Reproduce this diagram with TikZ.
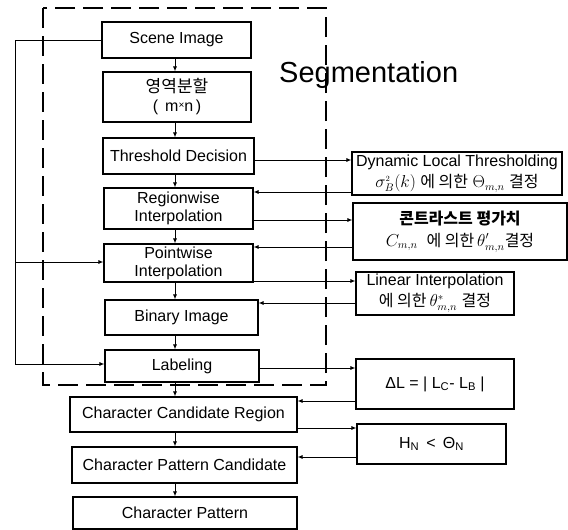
\documentclass[tikz,border=0pt]{standalone}
\usepackage{fontspec}
\setmainfont{Liberation Sans}
\newfontfamily\kr{Noto Sans CJK KR}
\usetikzlibrary{arrows.meta}
\begin{document}
\begin{tikzpicture}[x=1pt,y=-1pt,
  blk/.style={draw, line width=1.1pt, inner sep=0pt, align=center,
    font=\fontsize{16}{18}\selectfont},
  arr/.style={line width=0.9pt, -{Latex[length=5pt,width=4pt]}},
  ln/.style={line width=0.9pt},
  segframe/.style={dashed, line width=1.2pt, dash pattern=on 20pt off 8pt}]
\useasboundingbox (0,0) rectangle (568,530);

% segmentation frame
\draw[segframe] (43,8) rectangle (326,385);
\node[anchor=base west, font=\fontsize{29}{31}\selectfont, inner sep=0pt] (segtitle) at (279,82) {Segmentation};

% main column
\node[blk, minimum width=149pt, minimum height=36pt] (scene)  at (176.5,40)  {Scene Image};
\node[blk, minimum width=148pt, minimum height=50pt] (split)  at (177,97)    {{\kr\fontsize{17}{19}\selectfont 영역분할}\\[1pt](\;\,m\raisebox{3pt}{\fontsize{10}{10}\selectfont ×}n\,)};
\node[blk, minimum width=151pt, minimum height=36pt] (thresh) at (178.5,156) {Threshold Decision};
\node[blk, minimum width=149pt, minimum height=41pt] (region) at (178.5,208.5) {Regionwise\\Interpolation};
\node[blk, minimum width=149pt, minimum height=38pt] (point)  at (178.5,263) {Pointwise\\Interpolation};
\node[blk, minimum width=153pt, minimum height=35pt] (binary) at (181.5,317.5) {Binary Image};
\node[blk, minimum width=154pt, minimum height=32pt] (label)  at (182,366)   {Labeling};
\node[blk, minimum width=227pt, minimum height=35pt] (ccr)    at (183.5,414.5) {Character Candidate Region};
\node[blk, minimum width=225pt, minimum height=36pt] (cpc)    at (184.5,465) {Character Pattern Candidate};
\node[blk, minimum width=224pt, minimum height=32pt] (cp)     at (185,513)   {Character Pattern};

% side boxes
\node[blk, minimum width=210pt, minimum height=43pt] (dyn) at (457,173.5)
  {Dynamic Local Thresholding\\[3pt]$\sigma_B^{\scriptscriptstyle 2}(k)$ {\kr 에 의한} $\Theta_{m,n}$ {\kr 결정}};
\node[blk, minimum width=214pt, minimum height=57pt] (con) at (460,231.5)
  {{\kr\bfseries 콘트라스트 평가치}\\[4pt]$C_{m,n}$\ \ {\kr 에 의한}$\,\theta'_{m,n}${\kr 결정}};
\node[blk, minimum width=158pt, minimum height=43pt] (lin) at (435,293.5)
  {Linear Interpolation\\[3pt]{\kr 에 의한}$\,\theta^{*}_{m,n}$ {\kr 결정}};
\node[blk, minimum width=158pt, minimum height=50pt] (dl) at (435,384)
  {ΔL = | L\textsubscript{C}- L\textsubscript{B} |};
\node[blk, minimum width=149pt, minimum height=40pt] (hn) at (431.5,444)
  {H\textsubscript{N} \,<\, Θ\textsubscript{N}};

% vertical flow
\coordinate (ax) at (175,0);
\foreach \a/\b in {scene/split, split/thresh, thresh/region, region/point,
                   point/binary, binary/label, label/ccr, ccr/cpc, cpc/cp}
  \draw[arr] (\a.south -| ax) -- (\b.north -| ax);

% links to the side boxes
\draw[arr] (thresh.east |- 0,160) -- (dyn.west |- 0,160);
\draw[arr] (dyn.west |- 0,192) -- (region.east |- 0,192);
\draw[arr] (region.east |- 0,220) -- (con.west |- 0,220);
\draw[arr] (con.west |- 0,247) -- (point.east |- 0,247);
\draw[arr] (point.east |- 0,281) -- (lin.west |- 0,281);
\draw[arr] (lin.west |- 0,303) -- (binary.east |- 0,303);
\draw[arr] (label.east |- 0,368) -- (dl.west |- 0,368);
\draw[arr] (dl.west |- 0,401) -- (ccr.east |- 0,401);
\draw[arr] (ccr.east |- 0,428) -- (hn.west |- 0,428);
\draw[arr] (hn.west |- 0,457) -- (cpc.east |- 0,457);

% feedback from the scene image
\coordinate (fbtop) at (15,40);
\coordinate (fbmid) at (15,262);
\coordinate (fbbot) at (15,364);
\draw[ln] (scene.west) -- (fbtop) -- (fbbot);
\draw[arr] (fbmid) -- (point.west |- fbmid);
\draw[arr] (fbbot) -- (label.west |- fbbot);
\end{tikzpicture}
\end{document}
